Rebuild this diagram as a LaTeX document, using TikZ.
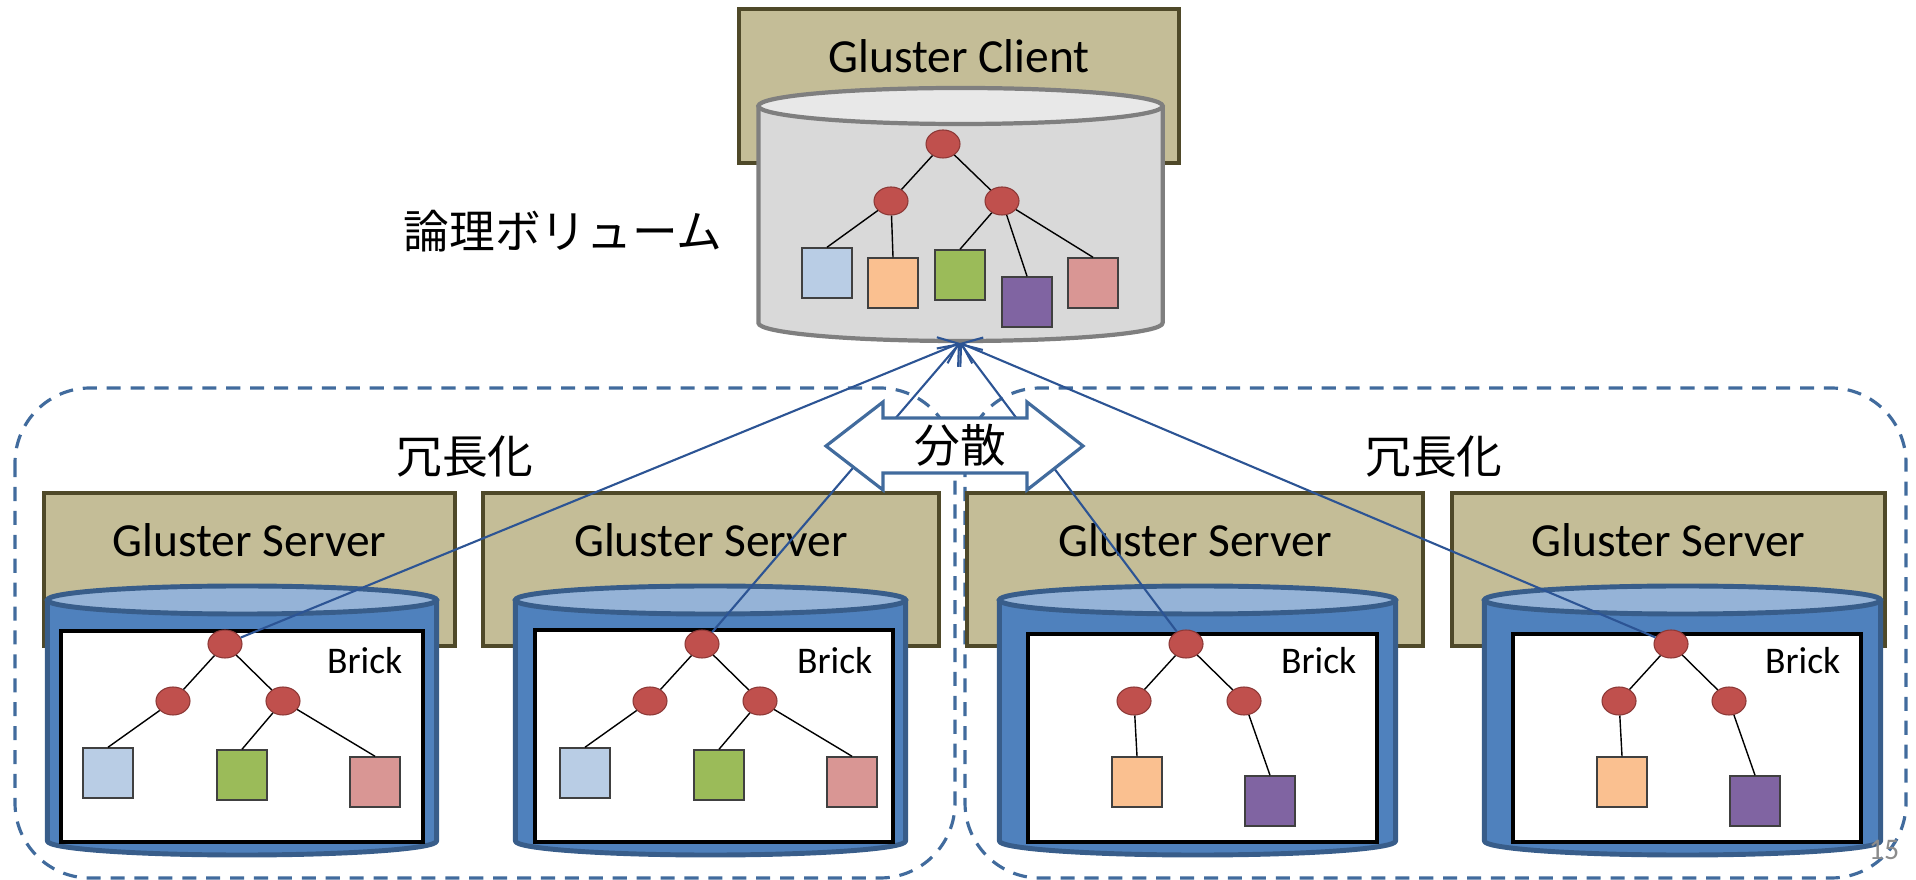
\documentclass[tikz,border=0pt]{standalone}
\usepackage{fontspec}
\setmainfont{Carlito}
\newfontfamily\jpfont{Noto Sans CJK JP}
\usetikzlibrary{arrows.meta,shapes.geometric}

\definecolor{srvfill}{RGB}{196,189,151}
\definecolor{srvline}{RGB}{79,73,41}
\definecolor{volgray}{RGB}{217,217,217}
\definecolor{voltop}{RGB}{232,232,232}
\definecolor{volline}{RGB}{127,127,127}
\definecolor{brkblue}{RGB}{79,129,189}
\definecolor{brktop}{RGB}{149,179,215}
\definecolor{brkline}{RGB}{56,93,138}
\definecolor{linkblue}{RGB}{44,84,148}
\definecolor{dashblue}{RGB}{65,107,157}
\definecolor{dotred}{RGB}{192,80,77}
\definecolor{dotline}{RGB}{140,56,54}
\definecolor{fblue}{RGB}{185,205,229}
\definecolor{forange}{RGB}{250,192,144}
\definecolor{fgreen}{RGB}{155,187,89}
\definecolor{fpurple}{RGB}{128,100,162}
\definecolor{fpink}{RGB}{217,150,148}

\tikzset{
  server/.style={draw=srvline, fill=srvfill, line width=1.1pt},
  client body/.style={draw=volline, fill=volgray, line width=1.2pt, line join=round},
  client top/.style={draw=volline, fill=voltop, line width=1.2pt},
  brick body/.style={draw=brkline, fill=brkblue, line width=1.4pt, line join=round},
  brick top/.style={draw=brkline, fill=brktop, line width=1.4pt},
  brick/.style={draw=black, fill=white, line width=1.1pt},
  dir/.style={ellipse, draw=dotline, fill=dotred, inner sep=0pt, minimum width=0.34cm, minimum height=0.28cm, line width=0.3pt},
  file/.style={rectangle, draw=black!75, fill=#1, inner sep=0pt, minimum size=0.5cm, line width=0.4pt},
  twig/.style={black, line width=0.4pt},
  feed/.style={linkblue, line width=0.6pt, -{Straight Barb[length=5pt,width=8pt]}},
  group/.style={dashblue, line width=0.9pt, dash pattern=on 4pt off 2.8pt, rounded corners=0.75cm},
  twoway/.style={draw=dashblue, fill=white, line width=0.9pt},
  big/.style={font=\fontsize{13.5}{16}\selectfont},
  small/.style={font=\fontsize{10.7}{12}\selectfont, inner sep=0pt},
  jp/.style={font=\jpfont\fontsize{13}{16}\selectfont}
}

% cylinder: kind, centre x, top y, bottom y, half width, rim height
\newcommand{\drum}[6]{%
  \draw[#1 body] ([xshift=-#5cm]#2,#3) -- ([xshift=-#5cm]#2,#4)
    arc[start angle=180, end angle=360, x radius=#5cm, y radius=#6cm]
    -- ([xshift=#5cm]#2,#3) -- cycle;
  \draw[#1 top] (#2,#3) ellipse [x radius=#5cm, y radius=#6cm];}

\begin{document}
\begin{tikzpicture}[x=0.01cm, y=-0.01cm]
\useasboundingbox (0,0) rectangle (1916,880);

% replica groups
\draw[group] (15,388) rectangle (955,878);
\draw[group] (965,388) rectangle (1906,878);
\node[jp] (rep1) at (465,457) {冗長化};
\node[jp] (rep2) at (1434,457) {冗長化};

% client
\draw[server] (739,9) rectangle (1179,163);
\node[big, anchor=base] (client) at (959,73) {Gluster Client};
\drum{client}{960.5}{106}{323}{2.02}{0.18}
\coordinate (vol) at (960,343);
\node[jp] (volname) at (563,231) {論理ボリューム};

\node[dir] (c0) at (943,144) {};
\node[dir] (c1) at (891,201) {};
\node[dir] (c2) at (1002,201) {};
\node[file=fblue] (cf1) at (827,273) {};
\node[file=forange] (cf2) at (893,283) {};
\node[file=fgreen] (cf3) at (960,275) {};
\node[file=fpurple] (cf4) at (1027,302) {};
\node[file=fpink] (cf5) at (1093,283) {};
\draw[twig] (c0) -- (c1) (c0) -- (c2) (c1) -- (cf1.north) (c1) -- (cf2.north)
  (c2) -- (cf3.north) (c2) -- (cf4.north) (c2) -- (cf5.north);

% servers
\foreach \n/\l/\r/\c/\w/\bl/\br/\bt in {1/44/455/242/1.945/61/423/631,
    2/483/939/710.5/1.95/535/893/630, 3/967/1423/1197.5/1.98/1028/1377/634,
    4/1452/1885/1682.5/1.98/1513/1861/634} {
  \draw[server] (\l,493) rectangle (\r,646);
  \node[big, anchor=base] (srv\n) at ({(\l+\r)/2},557) {Gluster Server};
  \drum{brick}{\c}{600}{841}{\w}{0.14}
  \draw[brick] (\bl,\bt) rectangle (\br,842);
  \node[small, anchor=base east] (brk\n) at ({\br-20},674) {Brick};
}

% bricks 1 and 2
\foreach \n/\x in {1/225, 2/702} {
  \node[dir] (root\n) at (\x,644) {};
  \node[dir] (left\n) at ({\x-52},701) {};
  \node[dir] (right\n) at ({\x+58},701) {};
  \node[file=fblue] (fa\n) at ({\x-117},773) {};
  \node[file=fgreen] (fb\n) at ({\x+17},775) {};
  \node[file=fpink] (fc\n) at ({\x+150},782) {};
  \draw[twig] (root\n) -- (left\n) (root\n) -- (right\n) (left\n) -- (fa\n.north)
    (right\n) -- (fb\n.north) (right\n) -- (fc\n.north);
}
% bricks 3 and 4
\foreach \n/\x in {3/1186, 4/1671} {
  \node[dir] (root\n) at (\x,644) {};
  \node[dir] (left\n) at ({\x-52},701) {};
  \node[dir] (right\n) at ({\x+58},701) {};
  \node[file=forange] (fa\n) at ({\x-49},782) {};
  \node[file=fpurple] (fb\n) at ({\x+84},801) {};
  \draw[twig] (root\n) -- (left\n) (root\n) -- (right\n) (left\n) -- (fa\n.north)
    (right\n) -- (fb\n.north);
}

\foreach \n in {1,...,4}
  \draw[feed] (root\n) -- (vol);

% distribute
\draw[twoway] (826,446) -- (883,402) -- (883,418) -- (1027,418) -- (1027,402)
  -- (1083,446) -- (1027,490) -- (1027,473) -- (883,473) -- (883,490) -- cycle;
\node[jp] (spread) at (960,445) {分散};

\node[text=black!45, font=\fontsize{8.5}{10}\selectfont] (page) at (1884,850) {15};
\end{tikzpicture}
\end{document}
